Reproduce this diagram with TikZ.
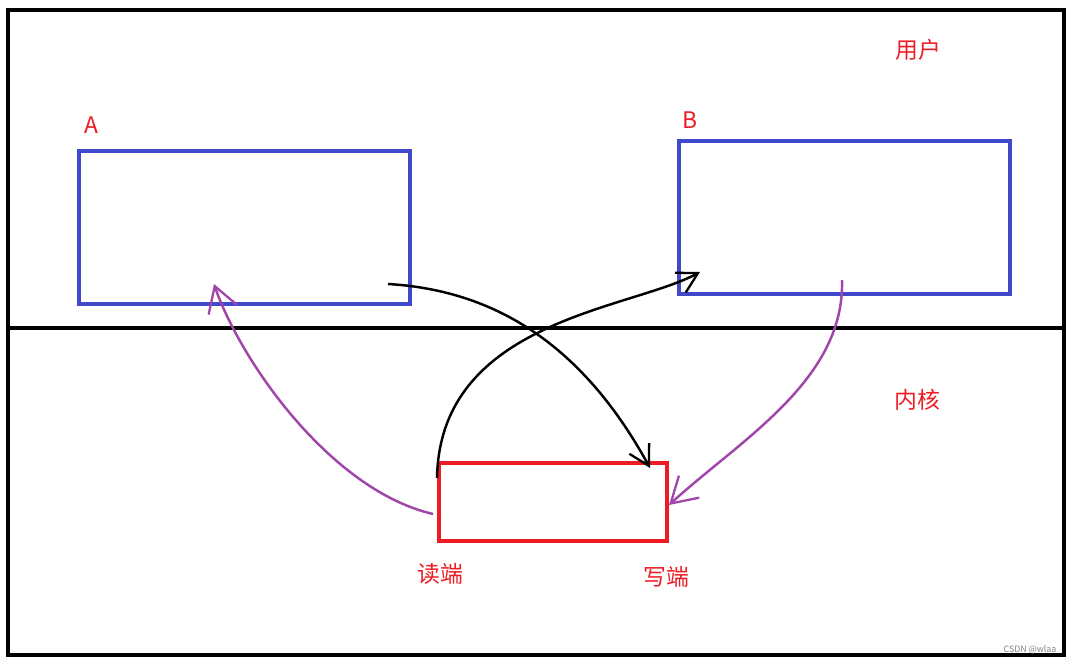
\documentclass[tikz,border=0pt]{standalone}
\usepackage{fontspec}
\setmainfont{Noto Sans CJK SC}
\usepackage{xcolor}
\usepackage{tikz}
\usetikzlibrary{arrows.meta, positioning}
\definecolor{procblue}{RGB}{64,72,204}
\definecolor{pipered}{RGB}{237,28,36}
\definecolor{inkpurple}{RGB}{160,70,170}

\begin{document}
\begin{tikzpicture}[
    x=0.02cm, y=-0.02cm,
    proc/.style={rectangle, draw=procblue, line width=2.3pt, minimum width=6.62cm, minimum height=3.06cm, inner sep=0pt},
    pipe/.style={rectangle, draw=pipered, line width=2.3pt, minimum width=4.56cm, minimum height=1.56cm, inner sep=0pt},
    lbl/.style={text=pipered, font=\fontsize{13}{15}\selectfont, inner sep=0pt},
    inkarr/.style={-{Straight Barb[length=0.4cm, width=0.45cm, line width=1.3pt]}, line width=1.4pt, black},
    callarr/.style={-{Straight Barb[length=0.5cm, width=0.6cm, line width=1.3pt]}, line width=1.4pt, inkpurple}
]
\useasboundingbox (0,0) rectangle (1073,665);
\draw[line width=2.5pt] (8,10) rectangle (1064,655);
\coordinate (divL) at (8,328);
\coordinate (divR) at (1064,328);
\draw[line width=2.3pt] (divL) -- (divR);

\node[proc] (procA) at (244.5,227.5) {};
\node[proc] (procB) at (844.5,217.5) {};
\node[pipe] (pipe) at (553,502) {};

\node[lbl] (labA) at (91,125) {A};
\node[lbl] (labB) at (690,120) {B};
\node[lbl] (user) at (918,50) {用户};
\node[lbl] (kernel) at (917,400) {内核};
\node[lbl] (rd) at (440,574) {读端};
\node[lbl] (wr) at (666,577) {写端};
\node[text=gray, font=\fontsize{5}{6}\selectfont, inner sep=0pt] (mark) at (1030,650) {CSDN @wlaa};

% A writes into the pipe, B reads from it
\coordinate (aout) at (388,284);
\coordinate (wrin) at (650,468);
\coordinate (rdout) at (437,478);
\coordinate (bin) at (700,272);
\draw[inkarr] (aout) .. controls (490,290) and (580,340) .. (wrin);
\draw[inkarr] (rdout) .. controls (440,320) and (630,310) .. (bin);

% purple return paths
\coordinate (rdleft) at (433,514);
\coordinate (ain) at (214,284);
\coordinate (bout) at (842,280);
\coordinate (wrright) at (669,505);
\draw[callarr] (rdleft) .. controls (330,490) and (240,360) .. (ain);
\draw[callarr] (bout) .. controls (845,380) and (740,440) .. (wrright);
\end{tikzpicture}
\end{document}
